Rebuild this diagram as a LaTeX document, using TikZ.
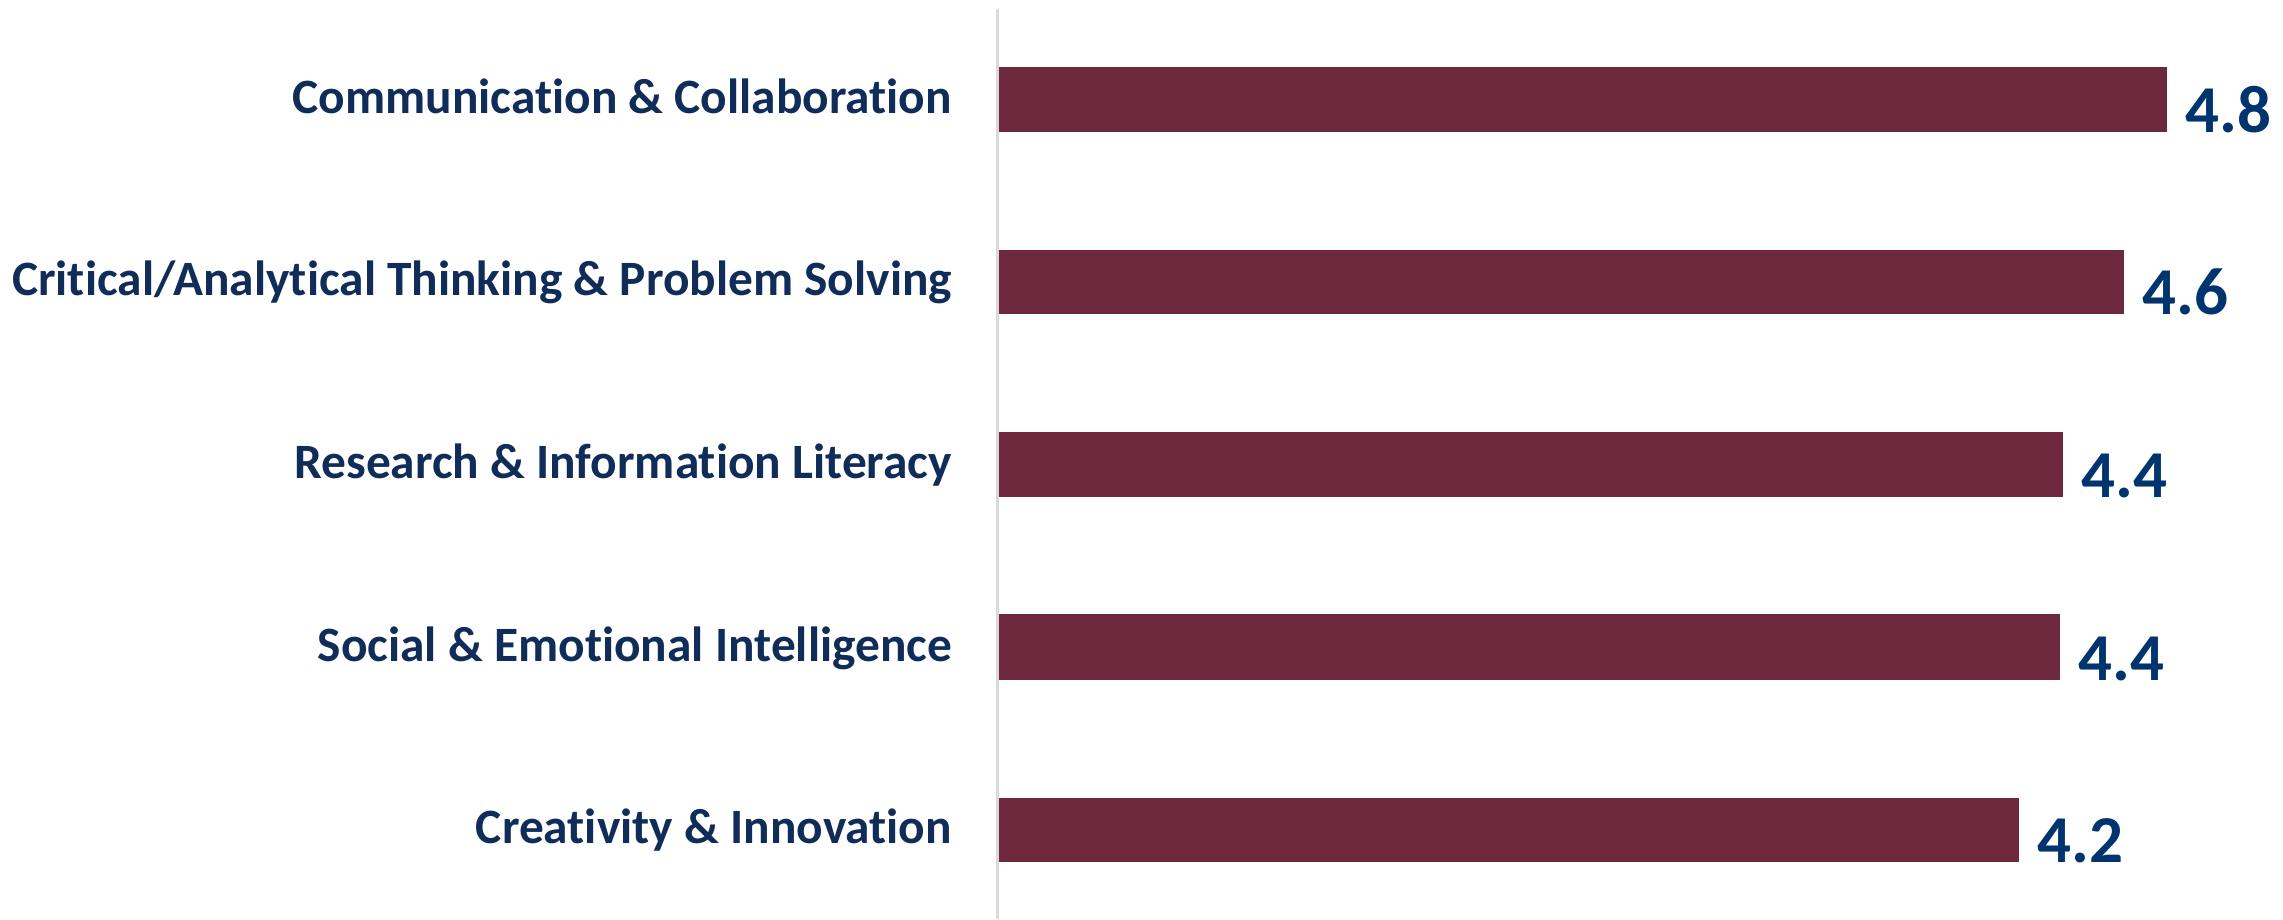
\documentclass[tikz,border=0pt]{standalone}
\usepackage{fontspec}
\setmainfont[Ligatures={NoCommon}]{Carlito}
\definecolor{barc}{RGB}{109,40,62}
\definecolor{labc}{RGB}{16,44,88}
\definecolor{valc}{RGB}{0,52,110}
\definecolor{axisc}{RGB}{217,217,217}
\tikzset{
  bar/.style={fill=barc, draw=none},
  catlabel/.style={anchor=base east, inner sep=0pt, text=labc, font=\fontsize{49.4}{59}\selectfont\bfseries},
  vallabel/.style={anchor=base west, inner sep=0pt, text=valc, font=\fontsize{67}{80}\selectfont\bfseries},
}
\begin{document}
\begin{tikzpicture}[x=1pt,y=-1pt]
\useasboundingbox (0,0) rectangle (2283,919);
\draw[axisc, line width=3pt] (997,9) -- (997,919);
% bars: top, bottom, right end
\foreach \i/\t/\b/\r/\v/\lab in {
 1/67/132/2167/4.8/{Communication \& Collaboration},
 2/250/314/2124/4.6/{Critical/Analytical Thinking \& Problem Solving},
 3/432/497/2063/4.4/{Research \& Information Literacy},
 4/614/680/2060/4.4/{Social \& Emotional Intelligence},
 5/798/862/2019/4.2/{Creativity \& Innovation}} {
  \node[bar, minimum width=\r pt-999pt, minimum height=\b pt-\t pt, inner sep=0pt, anchor=north west] (bar\i) at (999,\t) {};
  \node[vallabel] (val\i) at ([xshift=18pt]bar\i.south east) {\v};
  \node[catlabel] (lab\i) at (952,\b-19) {\lab};
}
\end{tikzpicture}
\end{document}
